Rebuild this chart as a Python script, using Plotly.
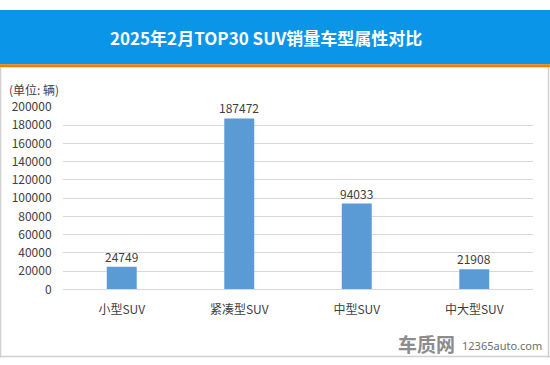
import plotly.graph_objects as go

categories = ["小型SUV", "紧凑型SUV", "中型SUV", "中大型SUV"]
sales = [24749, 187472, 94033, 21908]
y_ticks = [0, 20000, 40000, 60000, 80000, 100000, 120000, 140000, 160000, 180000, 200000]

W, H = 550, 365
FONT = "Noto Sans CJK SC, Microsoft YaHei, sans-serif"

def py(px):
    return 1 - px / H

def pxx(px):
    return px / W

fig = go.Figure()
fig.add_trace(go.Bar(
    x=categories, y=sales, width=0.255,
    marker=dict(color="#5B9BD5", line=dict(width=0)),
    hoverinfo="x+y",
))

shapes = [
    dict(type="rect", xref="paper", yref="paper", x0=0, x1=1, y0=py(57), y1=1,
         fillcolor="#0A95E8", line=dict(width=0), layer="below"),
    dict(type="rect", xref="paper", yref="paper", x0=0, x1=1, y0=py(60), y1=py(57),
         fillcolor="#F07D00", line=dict(width=0), layer="below"),
    dict(type="line", xref="paper", yref="paper", x0=pxx(0.5), x1=pxx(0.5), y0=py(60), y1=py(364.5),
         line=dict(color="#D0D0D0", width=1.5)),
    dict(type="line", xref="paper", yref="paper", x0=pxx(548.5), x1=pxx(548.5), y0=py(60), y1=py(364.5),
         line=dict(color="#D0D0D0", width=1.5)),
    dict(type="line", xref="paper", yref="paper", x0=0, x1=1, y0=py(363.5), y1=py(363.5),
         line=dict(color="#D0D0D0", width=1.5)),
]

annotations = [
    dict(text="<b>2025年2月TOP30 SUV销量车型属性对比</b>", xref="paper", yref="paper",
         x=pxx(266), y=py(29), xanchor="center", yanchor="middle", showarrow=False,
         font=dict(size=17, color="white", family=FONT)),
    dict(text="(单位: 辆)", xref="paper", yref="paper", x=pxx(7), y=py(83),
         xanchor="left", yanchor="middle", showarrow=False,
         font=dict(size=12, color="#404040", family=FONT)),
    dict(text="<b>车质网</b>", xref="paper", yref="paper", x=pxx(457), y=py(350),
         xanchor="right", yanchor="middle", showarrow=False,
         font=dict(size=19, color="#8C8C8C", family=FONT)),
    dict(text="12365auto.com", xref="paper", yref="paper", x=pxx(460), y=py(352),
         xanchor="left", yanchor="middle", showarrow=False,
         font=dict(size=11, color="#6E6E6E", family="Noto Sans, Arial, sans-serif")),
]

for c, v in zip(categories, sales):
    annotations.append(dict(
        text=str(v), x=c, y=v, xref="x", yref="y", xanchor="center", yanchor="bottom",
        yshift=0, showarrow=False, font=dict(size=12, color="#404040", family=FONT)))

fig.update_layout(
    width=W, height=H, autosize=False,
    margin=dict(l=0, r=0, t=0, b=0, pad=0),
    paper_bgcolor="white", plot_bgcolor="white",
    showlegend=False,
    shapes=shapes, annotations=annotations,
    font=dict(family=FONT, color="#404040", size=12),
    xaxis=dict(domain=[pxx(63), pxx(533)], showgrid=False, showline=True,
               linecolor="#D9D9D9", linewidth=1, ticks="outside", ticklen=9,
               tickcolor="rgba(0,0,0,0)", tickfont=dict(size=12, color="#404040"),
               fixedrange=True),
    yaxis=dict(domain=[py(293), py(101.7)], range=[0, 200000], tickvals=y_ticks,
               ticktext=[str(v) for v in y_ticks], showgrid=True, gridcolor="#D9D9D9",
               gridwidth=1, zeroline=False, showline=False, ticks="outside", ticklen=8,
               tickcolor="rgba(0,0,0,0)", tickfont=dict(size=12, color="#404040"),
               fixedrange=True),
)

fig.write_html(
    "out.html",
    config={"displayModeBar": False},
    post_script="document.body.style.margin='0';document.body.style.overflow='hidden';",
)
